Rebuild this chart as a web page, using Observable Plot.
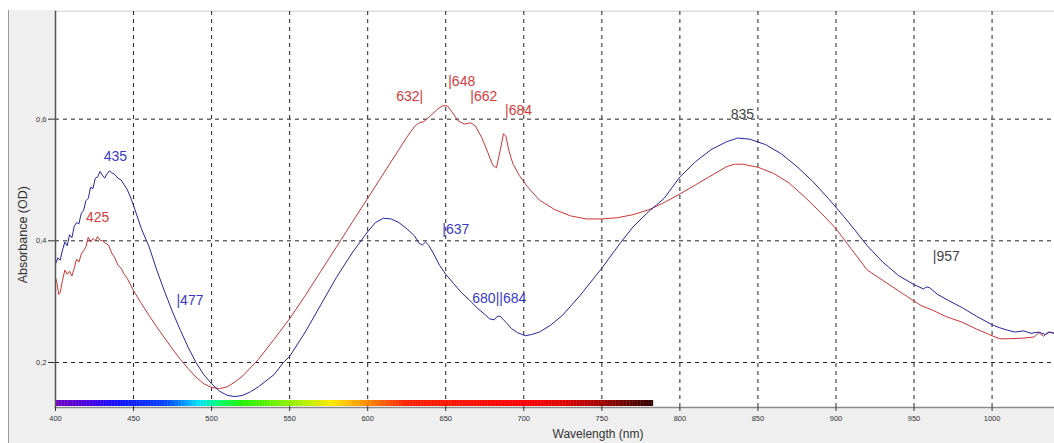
<!DOCTYPE html>
<html>
<head>
<meta charset="utf-8">
<script src="https://cdn.jsdelivr.net/npm/d3@7"></script>
<script src="https://cdn.jsdelivr.net/npm/@observablehq/plot@0.6"></script>
<style>
  body { margin: 0; background: #fff; }
  #wrap { position: relative; width: 1054px; height: 443px; overflow: hidden; }
  #panel { position: absolute; left: 8px; top: 10px; right: 0; bottom: 0; background: #efefef; border-left: 1px solid #9a9a9a; }
  #chart { position: absolute; left: 0; top: 0; }
</style>
</head>
<body>
<div id="wrap"><div id="panel"></div><div id="chart"></div></div>
<script>
// ---- data ----
const xTicks = [400, 450, 500, 550, 600, 650, 700, 750, 800, 850, 900, 950, 1000];
const yTicks = [0.2, 0.4, 0.6];

const blueNm = [400,401.5,403,404.5,406,407.5,409,410.5,412,413.5,415,416.5,418,419.5,421,422.5,424,425.5,427,428.5,430,431.5,433,434.5,436,438,440,442,444,446,448,450,455,460,465,470,475,480,485,490,495,500,505,510,515,520,525,530,540,546,550,560,570,580,590,600,605,610,615,620,625,630,633,635,637,639,642,646,650,655,660,665,670,675,678,681,683,685,687,689,692,696,701,705,710,717,725,736,750,762,770,780,785,790,800,810,820,830,837,845,855,865,875,885,895,905,912,920,930,940,950,956,958,960,965,972,981,990,1000,1005,1010,1015,1020,1025,1030,1034,1037,1040];
const blueOD = [0.362,0.372,0.368,0.385,0.398,0.392,0.41,0.405,0.424,0.43,0.428,0.445,0.45,0.466,0.47,0.488,0.486,0.503,0.505,0.514,0.508,0.503,0.51,0.515,0.512,0.509,0.503,0.5,0.492,0.484,0.472,0.458,0.42,0.39,0.351,0.316,0.283,0.253,0.225,0.2,0.18,0.165,0.153,0.146,0.144,0.146,0.152,0.16,0.18,0.2,0.21,0.25,0.295,0.34,0.38,0.415,0.43,0.437,0.436,0.43,0.42,0.408,0.396,0.393,0.398,0.393,0.38,0.36,0.345,0.33,0.315,0.303,0.29,0.279,0.272,0.27,0.276,0.276,0.27,0.265,0.256,0.249,0.244,0.246,0.25,0.261,0.278,0.31,0.355,0.397,0.423,0.448,0.459,0.47,0.505,0.53,0.55,0.563,0.569,0.567,0.558,0.543,0.522,0.498,0.47,0.44,0.418,0.392,0.365,0.343,0.328,0.321,0.324,0.323,0.312,0.302,0.29,0.276,0.262,0.257,0.253,0.25,0.252,0.248,0.25,0.246,0.25,0.248];

const redNm = [400,401,402,403,404.5,406,407.5,409,410.5,412,413.5,415,416.5,418,419.5,421,422.5,424,425.5,427,428.5,430,432,434,436,438,440,442,444,446,450,455,460,465,470,475,480,485,490,495,500,505,510,515,520,530,540,550,560,570,580,590,600,610,620,625,630,633,636,640,645,648,651,654,658,662,666,669,673,677,680,682.5,685,687,688.5,690.5,693,697,702,710,720,730,740,750,760,770,780,790,800,810,820,830,835,840,850,860,870,880,890,900,910,920,930,940,950,955,958,962,970,981,990,1000,1005,1010,1020,1027,1030,1033,1036,1040];
const redOD = [0.34,0.33,0.312,0.315,0.335,0.352,0.345,0.35,0.342,0.355,0.37,0.365,0.378,0.384,0.39,0.406,0.398,0.404,0.4,0.407,0.401,0.4,0.396,0.393,0.38,0.372,0.36,0.355,0.345,0.338,0.318,0.297,0.277,0.258,0.24,0.222,0.205,0.19,0.176,0.165,0.159,0.157,0.16,0.168,0.178,0.205,0.238,0.272,0.31,0.35,0.39,0.43,0.47,0.51,0.55,0.57,0.588,0.594,0.596,0.605,0.617,0.622,0.622,0.612,0.597,0.592,0.594,0.589,0.57,0.545,0.525,0.52,0.55,0.576,0.572,0.548,0.527,0.508,0.49,0.467,0.451,0.441,0.436,0.436,0.438,0.443,0.451,0.463,0.477,0.492,0.507,0.522,0.526,0.526,0.521,0.511,0.495,0.472,0.447,0.42,0.386,0.352,0.335,0.318,0.301,0.293,0.29,0.286,0.276,0.266,0.255,0.244,0.239,0.239,0.24,0.242,0.249,0.243,0.25,0.248];

// annotation labels
const labelText  = ["435", "425", "|477", "632|", "|648", "|662", "|684", "|637", "680||684", "835", "|957"];
const labelNm    = [438.4, 427, 477.5, 635.6, 651.6, 665.7, 688, 647.8, 667, 840, 962];
const labelOD    = [0.539, 0.438, 0.302, 0.638, 0.662, 0.638, 0.615, 0.418, 0.305, 0.607, 0.374];
const labelColor = ["#3a3ac4", "#d23c3c", "#3a3ac4", "#d23c3c", "#d23c3c", "#d23c3c", "#d23c3c", "#3a3ac4", "#3a3ac4", "#444444", "#444444"];
const labelAnchor= ["middle", "middle", "start", "end", "start", "start", "start", "start", "start", "middle", "start"];

// visible spectrum colour bar stops
const specNm = [400, 420, 440, 470, 480, 492, 505, 520, 555, 578, 598, 625, 700, 725, 750, 783];
const specColor = ["#7000c0", "#4a00e0", "#1010ff", "#0040ff", "#0080ff", "#00e0ff", "#00ff70", "#20f000", "#a0f000", "#ffe800", "#ff9000", "#ff2000", "#ff0000", "#e00000", "#a00000", "#300000"];

// ---- build tables ----
const blue = blueNm.map((x, i) => ({x, y: blueOD[i]}));
const red = redNm.map((x, i) => ({x, y: redOD[i]}));
const labels = labelText.map((t, i) => ({t, x: labelNm[i], y: labelOD[i], c: labelColor[i], a: labelAnchor[i]}));
const specScale = d3.scaleLinear(specNm, specColor).interpolate(d3.interpolateRgb);
const spec = d3.range(specNm[0], specNm[specNm.length - 1], 1).map(n => ({x1: n, x2: n + 1.2, c: specScale(n + 0.5)}));

const frameH = 443 - 11 - 36;
const font = "'Liberation Sans', Arial, sans-serif";
const labelMark = anchor => Plot.text(labels.filter(d => d.a === anchor), {x: "x", y: "y", text: "t", fill: "c", textAnchor: anchor, fontSize: 14, fontFamily: font});

const chart = Plot.plot({
  width: 1054,
  height: 443,
  marginLeft: 55,
  marginRight: 0,
  marginTop: 11,
  marginBottom: 36,
  style: {background: "transparent", fontFamily: font},
  x: {domain: [400, 1040]},
  y: {domain: [0.126, 0.777]},
  marks: [
    Plot.frame({fill: "white", stroke: null}),
    Plot.frame({anchor: "top", stroke: "#dddddd"}),
    Plot.gridX(xTicks, {stroke: "#222", strokeOpacity: 1, strokeDasharray: "4,4"}),
    Plot.gridY(yTicks, {stroke: "#222", strokeOpacity: 1, strokeDasharray: "4,4"}),
    Plot.rect(spec, {x1: "x1", x2: "x2", fill: "c", insetTop: frameH - 7, insetBottom: 1}),
    Plot.line(red, {x: "x", y: "y", stroke: "#cc3535", strokeWidth: 1}),
    Plot.line(blue, {x: "x", y: "y", stroke: "#25259e", strokeWidth: 1}),
    Plot.frame({anchor: "bottom", stroke: "#8a8a8a", strokeWidth: 1.5}),
    Plot.frame({anchor: "left", stroke: "#555", strokeWidth: 1.5}),
    Plot.axisX(xTicks, {tickSize: 4, tickPadding: 4, fontSize: 7.5, fill: "#333", stroke: "#333", label: null, tickFormat: d => String(d)}),
    Plot.axisY(yTicks, {tickSize: 7, tickPadding: 2, fontSize: 7.5, fill: "#333", stroke: "#333", label: null, tickFormat: d => d.toFixed(1).replace(".", ",")}),
    labelMark("middle"),
    labelMark("start"),
    labelMark("end"),
    Plot.text(["Absorbance (OD)"], {x: () => 378.9, y: () => 0.41, rotate: -90, textAnchor: "middle", fontSize: 12.5, fill: "#333", fontFamily: font}),
    Plot.text(["Wavelength (nm)"], {frameAnchor: "bottom", dx: 43, dy: 30, fontSize: 12, fill: "#333", fontFamily: font})
  ]
});
document.getElementById("chart").appendChild(chart);
</script>
</body>
</html>
